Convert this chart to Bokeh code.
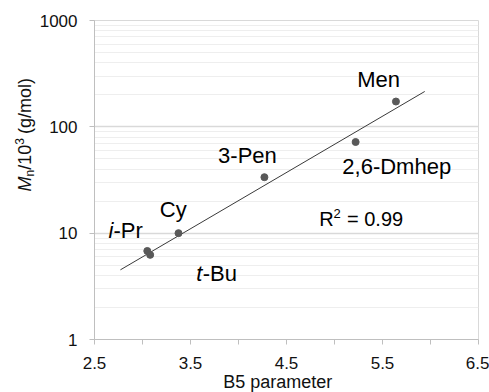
import math
from bokeh.plotting import figure
from bokeh.layouts import row
from bokeh.models import Range1d, FixedTicker, PrintfTickFormatter, Label, Title
from bokeh.embed import file_html
from bokeh.resources import INLINE

# ---- data ----
names = ["i-Pr", "t-Bu", "Cy", "3-Pen", "2,6-Dmhep", "Men"]
b5 = [3.05, 3.08, 3.375, 4.27, 5.22, 5.64]
mn = [6.8, 6.25, 10.0, 33.6, 72.0, 173.0]
trend_x = [2.77, 5.94]
trend_y = [4.52, 215.0]
r2_value = "0.99"
x_ticks = [2.5, 3.5, 4.5, 5.5, 6.5]
x_minor_ticks = [3.0, 4.0, 5.0, 6.0]
y_ticks = [1, 10, 100, 1000]
y_minor_ticks = [m * 10 ** k for k in range(3) for m in range(2, 10)]

FONT = "Liberation Sans"
GRID = "#d9d9d9"
AXIS = "#bfbfbf"
TXT = "#111111"
BASE_FIX = 0.36  # empirical correction of the alphabetic baseline (em)

W_LEFT = 36
W_TOTAL, H_TOTAL = 489, 392

p = figure(width=W_TOTAL - W_LEFT, height=H_TOTAL, title=None,
           x_range=Range1d(2.5, 6.5), y_range=Range1d(1, 1000),
           y_axis_type="log", output_backend="svg", toolbar_location=None,
           min_border_left=93 - W_LEFT, min_border_right=11, min_border_top=20,
           min_border_bottom=53)
p.background_fill_color = "white"
p.border_fill_color = "white"
p.outline_line_color = GRID
p.outline_line_width = 1

p.xaxis.ticker = FixedTicker(ticks=x_ticks, minor_ticks=x_minor_ticks)
p.xaxis.formatter = PrintfTickFormatter(format="%.1f")
p.yaxis.ticker = FixedTicker(ticks=y_ticks, minor_ticks=y_minor_ticks)
p.yaxis.formatter = PrintfTickFormatter(format="%d")

for ax in (p.xaxis, p.yaxis):
    ax.axis_line_color = AXIS
    ax.axis_line_width = 1
    ax.major_tick_line_color = AXIS
    ax.major_tick_out = 5
    ax.major_tick_in = 0
    ax.major_label_text_font = FONT
    ax.major_label_text_font_size = "17px"
    ax.major_label_text_color = TXT
p.xaxis.minor_tick_line_color = AXIS
p.xaxis.minor_tick_out = 5
p.xaxis.minor_tick_in = 0
p.yaxis.minor_tick_line_color = None
p.xaxis.major_label_standoff = 12
p.yaxis.major_label_standoff = 12

p.xgrid.grid_line_color = None
p.ygrid.grid_line_color = GRID
p.ygrid.grid_line_width = 1.5
p.ygrid.minor_grid_line_color = "#eeeeee"
p.ygrid.minor_grid_line_width = 1

# x axis title
p.add_layout(Title(text="B5 parameter", align="left", offset=128.7,
                   text_font=FONT, text_font_size="18px", text_font_style="normal",
                   text_color=TXT, standoff=-4), "below")

# trendline and points
p.line(trend_x, trend_y, line_color="#3a3a3a", line_width=1)
p.scatter(b5, mn, size=7, color="#595959")


def add_text(fig, x, y, text, dx, dy, size, style="normal", angle=0.0, color="black"):
    """Left/baseline-anchored text with pixel offsets (dy up)."""
    fix = BASE_FIX * size
    if angle:
        dx -= fix
    else:
        dy += fix
    fig.add_layout(Label(x=x, y=y, x_offset=dx, y_offset=dy, text=text,
                         text_font=FONT, text_font_size=f"{size}px", text_font_style=style,
                         text_color=color, text_align="left", text_baseline="alphabetic",
                         angle=angle))


# data labels: (left edge offset, baseline offset) relative to their point, px
label_layout = {
    "Men": (-38.7, 13.7),
    "2,6-Dmhep": (-13.3, -32),
    "3-Pen": (-46.3, 13.4),
    "Cy": (-18.7, 15.6),
    "i-Pr": (-38.7, 12.6),
    "t-Bu": (46.0, -26.4),
}
italic_head_w = {"i-Pr": 4.9, "t-Bu": 6.5}
for nm, x, y in zip(names, b5, mn):
    dx, dy = label_layout[nm]
    if nm in italic_head_w:
        add_text(p, x, y, nm[0], dx, dy, 22, style="italic")
        add_text(p, x, y, nm[1:], dx + italic_head_w[nm], dy, 22)
    else:
        add_text(p, x, y, nm, dx, dy, 22)

# R^2 annotation, anchored at the frame's bottom-left corner
X0, Y0 = 2.5, 1
add_text(p, X0, Y0, "R", 224.7, 113, 20)
add_text(p, X0, Y0, "2", 239.1, 121, 13)
add_text(p, X0, Y0, "= " + r2_value, 252.5, 113, 20)

# ---- left strip holding the rotated y-axis title ----
ty = figure(width=W_LEFT, height=H_TOTAL, x_range=Range1d(0, W_LEFT),
            y_range=Range1d(0, H_TOTAL), min_border=0, toolbar_location=None,
            output_backend="svg", x_axis_location=None, y_axis_location=None)
ty.outline_line_color = None
ty.background_fill_color = "white"
ty.border_fill_color = "white"
ty.grid.visible = False

A = math.pi / 2
bx = 30.5
add_text(ty, 0, 0, "M", bx, 148, 18, style="italic", angle=A, color=TXT)
add_text(ty, 0, 0, "n", bx + 3.0, 163, 12, angle=A, color=TXT)
add_text(ty, 0, 0, "/10", bx, 169.7, 18, angle=A, color=TXT)
add_text(ty, 0, 0, "3", bx - 7.5, 194.7, 12, angle=A, color=TXT)
add_text(ty, 0, 0, "(g/mol)", bx, 205.5, 18, angle=A, color=TXT)

layout = row(ty, p)
open("out.html", "w").write(file_html(layout, INLINE))
